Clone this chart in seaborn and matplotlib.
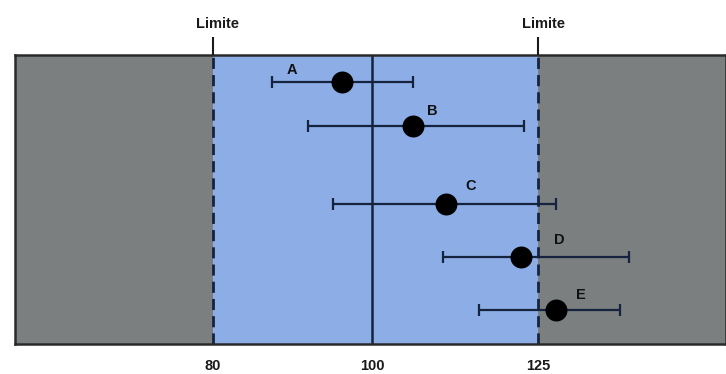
import numpy as np
import matplotlib
matplotlib.use("Agg")
import matplotlib.pyplot as plt
import matplotlib.transforms as mtransforms
import seaborn as sns
import pandas as pd

# ---- data ----
labels = ["A", "B", "C", "D", "E"]
estimates = [96.2, 106.2, 111.1, 122.4, 127.7]
lower = [87.4, 91.9, 95.1, 110.7, 116.1]
upper = [106.2, 122.9, 127.7, 138.7, 137.3]
rows = [27, 71, 149, 202, 255]          # vertical position of each study (from top)
limits = [80, 125]
reference = 100
tick_values = [80, 100, 125]
limit_label = "Limite"

df = pd.DataFrame({"label": labels, "est": estimates, "lo": lower, "hi": upper, "row": rows})

sns.set_theme(style="white")
plt.rcParams["font.family"] = ["Liberation Sans", "DejaVu Sans"]

# piecewise-linear scale (schematic axis: 80-100 wider than 100-125 per unit)
SL, SR = 7.95, 6.64
def fwd(x):
    x = np.asarray(x, dtype=float)
    return np.where(x < 100, (x - 100) * SL, (x - 100) * SR)
def inv(u):
    u = np.asarray(u, dtype=float)
    return np.where(u < 0, u / SL + 100, u / SR + 100)

fig = plt.figure(figsize=(7.26, 3.74), dpi=100)
ax = fig.add_axes([15 / 726, 30 / 374, 711 / 726, 289 / 374])
ax.set_xscale("function", functions=(fwd, inv))
xmin, xmax = 55.1, 153.3
ax.set_xlim(xmin, xmax)
ax.set_ylim(289, 0)

gray = "#7b7f7f"
blue = "#8cade6"
navy = "#15233f"
ax.set_facecolor(gray)
ax.axvspan(limits[0], limits[1], color=blue, zorder=0, lw=0)
for lim in limits:
    ax.axvline(lim, color=navy, lw=2, ls=(0, (4, 2.2)), zorder=1)
ax.axvline(reference, color=navy, lw=1.8, zorder=1)

# error bars
ax.errorbar(df["est"], df["row"],
            xerr=[df["est"] - df["lo"], df["hi"] - df["est"]],
            fmt="none", ecolor=navy, elinewidth=1.6, capsize=4, capthick=1.6, zorder=2)
sns.scatterplot(data=df, x="est", y="row", ax=ax, color="black", s=250,
                marker="o", edgecolor="black", linewidth=0, zorder=3, legend=False)

offsets = [(-36, 9), (14, 11), (18, 13), (28, 12), (18, 11)]
for lab, x, y, off in zip(labels, estimates, rows, offsets):
    ax.annotate(lab, (x, y), xytext=off, textcoords="offset points",
                ha="center", va="center", fontsize=10.5, fontweight="bold", color="#111111")

ax.set_xticks(tick_values)
ax.set_xticklabels([str(v) for v in tick_values], fontweight="bold", fontsize=10.5, color="#1a1a1a")
ax.set_yticks([])
ax.tick_params(axis="x", length=0, pad=11)
ax.set_xlabel("")
ax.set_ylabel("")
for side in ["top", "bottom", "left", "right"]:
    ax.spines[side].set_color("#2a2a2a")
    ax.spines[side].set_linewidth(1.8)

# top "Limite" markers
ax2 = ax.twiny()
ax2.set_xscale("function", functions=(fwd, inv))
ax2.set_xlim(xmin, xmax)
ax2.set_xticks(limits)
ax2.set_xticklabels([limit_label] * len(limits), fontweight="bold", fontsize=10.5, color="#1a1a1a")
ax2.tick_params(axis="x", length=13, width=1.5, color="#1a1a1a", pad=4)
shift = mtransforms.ScaledTranslation(5 / 100, 0, fig.dpi_scale_trans)
for lbl in ax2.get_xticklabels():
    lbl.set_transform(lbl.get_transform() + shift)
ax2.grid(False)
for side in ["top", "bottom", "left", "right"]:
    ax2.spines[side].set_visible(False)

fig.savefig("out.png", dpi=100)
